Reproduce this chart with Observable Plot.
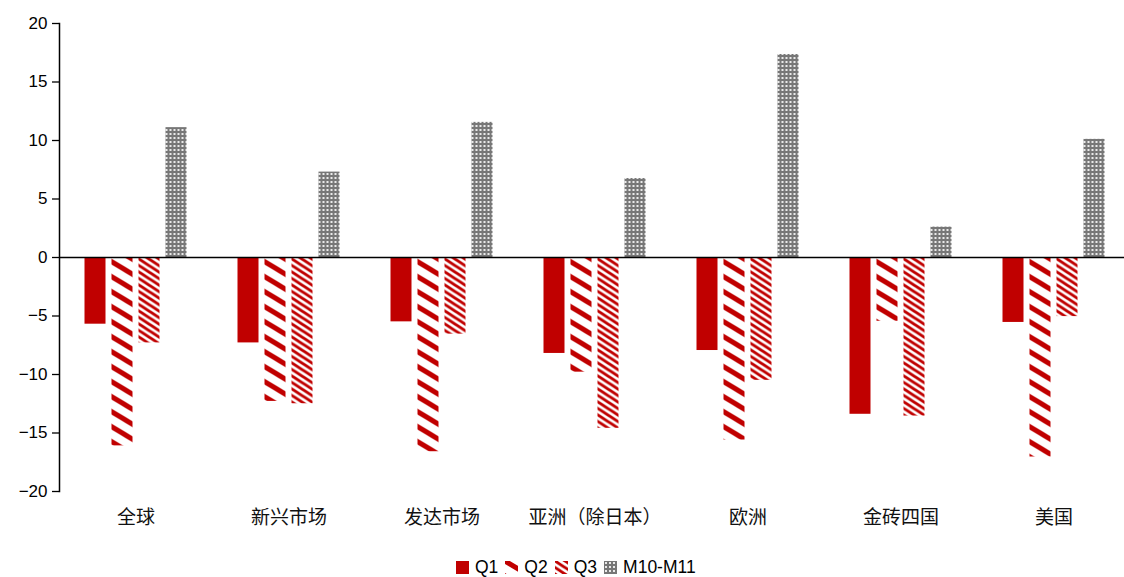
<!DOCTYPE html>
<html>
<head>
<meta charset="utf-8">
<script src="https://cdn.jsdelivr.net/npm/d3@7"></script>
<script src="https://cdn.jsdelivr.net/npm/@observablehq/plot@0.6"></script>
<style>
  html, body { margin: 0; padding: 0; background: #fff; overflow: hidden; }
  #chart svg { max-width: none !important; display: block; }
  #legend {
    position: absolute; left: 456px; top: 557px;
    display: flex; align-items: center; gap: 0;
    font-family: "Liberation Sans", Arial, sans-serif; font-size: 17.5px; color: #000;
  }
  #legend .item { display: flex; align-items: center; margin-right: 7px; }
  #legend svg { margin-right: 6px; }
</style>
</head>
<body>
<!-- fill patterns shared by the bars and the legend swatches -->
<svg width="0" height="0" style="position:absolute">
  <defs>
    <pattern id="patQ2" patternUnits="userSpaceOnUse" width="25" height="15">
      <rect width="25" height="15" fill="#fff"/>
      <path d="M-5,-3L30,18M-5,-18L30,3M-5,12L30,33" stroke="#C00000" stroke-width="5"/>
    </pattern>
    <pattern id="patQ3" patternUnits="userSpaceOnUse" width="10" height="6.5">
      <rect width="10" height="6.5" fill="#fff"/>
      <path d="M-4,-2.6L14,9.1M-4,-9.1L14,2.6M-4,3.9L14,15.6" stroke="#C00000" stroke-width="2.9"/>
    </pattern>
    <pattern id="patM" patternUnits="userSpaceOnUse" width="4" height="4">
      <rect width="4" height="4" fill="#777"/>
      <rect x="1" y="1" width="2" height="2" fill="#eaeaea"/>
    </pattern>
  </defs>
</svg>
<div id="chart"></div>
<div id="legend"></div>
<script>
// Regions along the x axis
const regions = ["全球", "新兴市场", "发达市场", "亚洲（除日本）", "欧洲", "金砖四国", "美国"];
// Series names
const seriesNames = ["Q1", "Q2", "Q3", "M10-M11"];
// Values per series, in region order
const q1 = [-5.7, -7.3, -5.5, -8.2, -7.95, -13.4, -5.55];
const q2 = [-16.1, -12.3, -16.6, -9.8, -15.6, -5.45, -17.05];
const q3 = [-7.3, -12.5, -6.55, -14.6, -10.5, -13.55, -5.05];
const m1011 = [11.1, 7.3, 11.55, 6.75, 17.35, 2.6, 10.1];
// Y axis ticks
const yTicks = [-20, -15, -10, -5, 0, 5, 10, 15, 20];

const seriesValues = [q1, q2, q3, m1011];
const fills = ["#C00000", "url(#patQ2)", "url(#patQ3)", "url(#patM)"];

const data = [];
regions.forEach((r, i) => {
  seriesNames.forEach((s, j) => {
    data.push({region: r, series: s, value: seriesValues[j][i]});
  });
});

const latin = "'Liberation Sans', Arial, sans-serif";
const cjk = "'Noto Sans CJK SC', sans-serif";

const chart = Plot.plot({
  width: 1131,
  height: 540,
  marginLeft: 58.5,
  marginRight: 0,
  marginTop: 23,
  marginBottom: 49,
  style: {fontFamily: latin, color: "#000", background: "#fff", overflow: "visible"},
  fx: {domain: regions, padding: 0, label: null},
  x: {domain: seriesNames, paddingInner: 0.21, paddingOuter: 0.86, axis: null},
  y: {domain: [-20, 20], axis: null, label: null},
  color: {domain: seriesNames, range: fills},
  marks: [
    Plot.barY(data, {fx: "region", x: "series", y: "value", fill: "series"}),
    Plot.ruleY([0], {stroke: "#000", strokeWidth: 1.5}),
    Plot.frame({anchor: "left", facetAnchor: "left", stroke: "#000", strokeWidth: 1.5}),
    Plot.axisY({ticks: yTicks, tickSize: 7, tickPadding: 5, fontSize: 17, label: null,
      tickFormat: d => d < 0 ? "−" + Math.abs(d) : String(d), strokeWidth: 1.3}),
    Plot.axisFx({anchor: "bottom", tickSize: 0, tickPadding: 19, fontSize: 19,
      fontFamily: cjk, label: null, fill: "#111"})
  ]
});
document.getElementById("chart").appendChild(chart);

// Legend built from the same series names and fills
const legend = document.getElementById("legend");
seriesNames.forEach((s, j) => {
  const item = document.createElement("div");
  item.className = "item";
  item.innerHTML = `<svg width="13" height="13"><rect width="13" height="13" fill="${fills[j]}"/></svg><span>${s}</span>`;
  legend.appendChild(item);
});
</script>
</body>
</html>
